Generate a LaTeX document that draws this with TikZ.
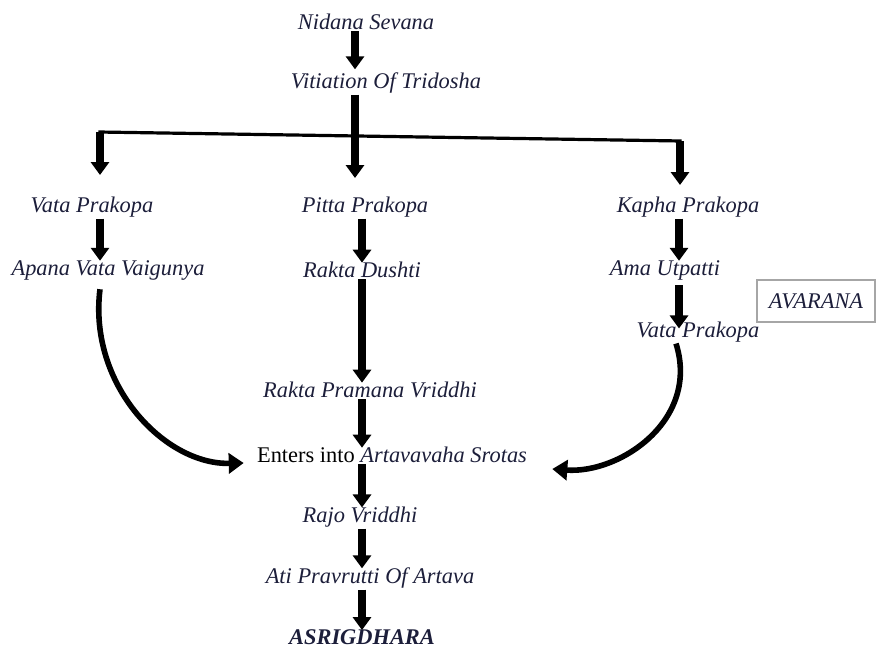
\documentclass[tikz,border=0pt]{standalone}
\usepackage{fontspec}
\setmainfont{Liberation Serif}
\usetikzlibrary{arrows.meta}
\definecolor{inkblue}{RGB}{28,30,58}
\newcommand{\txtsize}{\fontsize{11.2}{13}\selectfont}
\tikzset{
  label/.style={font=\txtsize\itshape, text=inkblue, inner sep=0.5pt},
  bigarrow/.style={line width=3.6pt, -{Triangle[width=9pt,length=6.5pt]}},
  curvearrow/.style={line width=2.8pt, -{Triangle[width=10pt,length=7.5pt]}},
}
\begin{document}
\begin{tikzpicture}[x=0.5pt, y=-0.5pt, font=\txtsize]
    \useasboundingbox (0,0) rectangle (876,648);

    % Cadena superior
    \node[label] (nid) at (366,22) {Nidana Sevana};
    \node[label] (vit) at (386,83) {Vitiation Of Tridosha};
    \coordinate (trunk) at (355,0);
    \draw[bigarrow] (nid.south -| trunk) -- ([yshift=1pt]vit.north -| trunk);

    % Tres ramas
    \node[label] (vata) at (92,207) {Vata Prakopa};
    \node[label] (pitta) at (365,207) {Pitta Prakopa};
    \node[label] (kapha) at (688,207) {Kapha Prakopa};
    \coordinate (jl) at (100,132);
    \coordinate (jr) at (680,141);
    \draw[line width=1.6pt] ([xshift=-0.8pt]jl) -- ([xshift=0.8pt]jr);
    \draw[bigarrow] (vit.south -| trunk) -- ([yshift=-1pt]trunk |- 0,176);
    \draw[bigarrow] (jl) -- (100,175);
    \draw[bigarrow] (jr) -- (680,185);

    % Columna izquierda
    \node[label] (apana) at (108,270) {Apana Vata Vaigunya};
    \draw[bigarrow] (vata.south -| 100,0) -- ([yshift=-1pt]apana.north -| 100,0);

    % Columna central
    \node[label] (dushti) at (362,270) {Rakta Dushti};
    \node[label] (pram) at (370,390) {Rakta Pramana Vriddhi};
    \node[inner sep=0.5pt, text=black, font=\txtsize] (enter) at (392,455) {Enters into \textcolor{inkblue}{\itshape Artavavaha Srotas}};
    \node[label] (rajo) at (360,517) {Rajo Vriddhi};
    \node[label] (ati) at (370,578) {Ati Pravrutti Of Artava};
    \node[label, font=\txtsize\bfseries\itshape] (asr) at (362,637) {ASRIGDHARA};
    \coordinate (mid) at (362,0);
    \draw[bigarrow] (pitta.south -| mid) -- ([yshift=-1pt]dushti.north -| mid);
    \draw[bigarrow] (dushti.south -| mid) -- ([yshift=-1pt]pram.north -| mid);
    \draw[bigarrow] (pram.south -| mid) -- ([yshift=-1pt]enter.north -| mid);
    \draw[bigarrow] (enter.south -| mid) -- ([yshift=-1pt]rajo.north -| mid);
    \draw[bigarrow] (rajo.south -| mid) -- ([yshift=-1pt]ati.north -| mid);
    \draw[bigarrow] (ati.south -| mid) -- ([yshift=-1pt]asr.north -| mid);

    % Columna derecha
    \node[label] (ama) at (665,270) {Ama Utpatti};
    \node[label] (vata2) at (698,332) {Vata Prakopa};
    \node[label, draw=gray!70, line width=0.8pt, minimum width=59pt, minimum height=21pt] (avar) at (816,301) {AVARANA};
    \coordinate (right) at (679,0);
    \draw[bigarrow] ([yshift=-2pt]ama.south -| right) -- ([yshift=-4pt]vata2.north -| right);

    \draw[bigarrow] (kapha.south -| right) -- ([yshift=-1pt]ama.north -| right);

    % Flechas curvas
    \draw[curvearrow] ([yshift=-4pt]apana.south -| 100,0) .. controls (88,385) and (165,465) .. ([xshift=-6pt, yshift=-4pt]enter.west);
    \draw[curvearrow] (vata2.south -| 676,0) .. controls (700,420) and (620,474) .. ([xshift=12pt, yshift=-7pt]enter.east);
\end{tikzpicture}
\end{document}
